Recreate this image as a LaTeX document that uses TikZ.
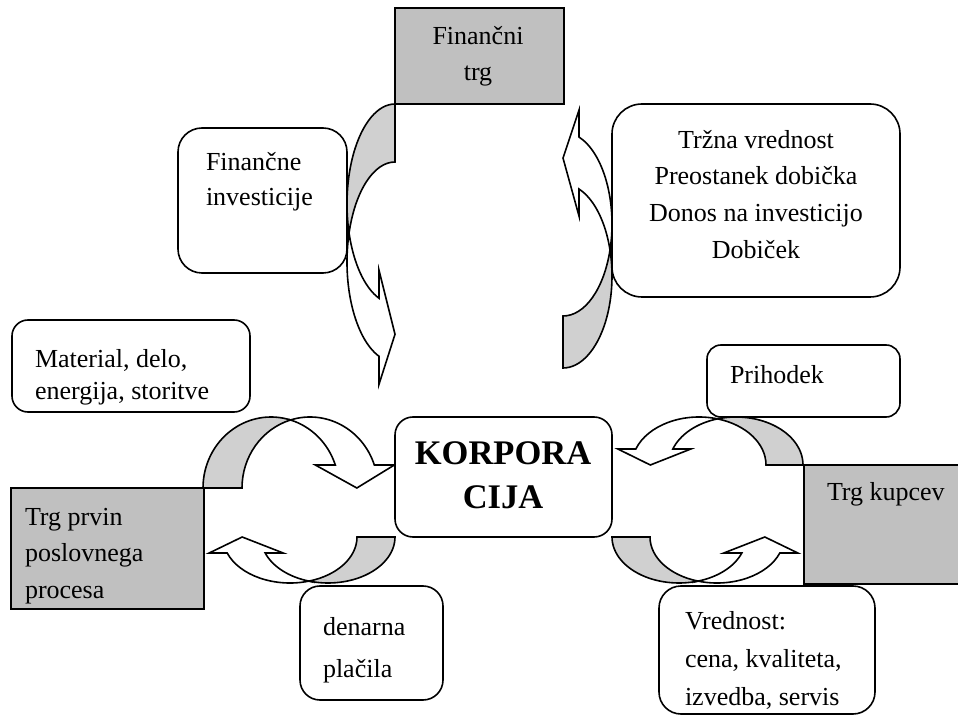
\documentclass[tikz,border=0pt]{standalone}
\usepackage{fontspec}
\setmainfont{Liberation Serif}
\usepackage{tikz}
\usetikzlibrary{positioning}
\definecolor{MarketGray}{RGB}{192,192,192}
\definecolor{ArrowGray}{RGB}{208,208,208}

\tikzset{
  roundbox/.style={draw, line width=1.6pt, fill=white, inner sep=0pt, outer sep=0pt},
  marketbox/.style={draw, line width=1.6pt, fill=MarketGray, inner sep=0pt, outer sep=0pt},
  boxtext/.style={inner sep=0pt, outer sep=0pt, font=\fontsize{26}{36.5}\selectfont},
  arrowback/.style={draw, line width=1.6pt, fill=ArrowGray},
  arrowfront/.style={draw, line width=1.6pt, fill=white},
}

% curved block arrow in its own frame: #1 shaft, #2 x radius, #3 y radius,
% #4 head base height, #5 barb, #6 tip shift
\newcommand\bentarrow[6]{%
  \pgfmathsetmacro\angcross{acos(#1/(2*#2))}
  \pgfmathsetmacro\angend{asin(#4/#3)}
  \pgfmathsetmacro\xin{#2+#2*cos(\angend)}
  \pgfmathsetmacro\xout{#1+\xin}
  \pgfmathsetmacro\xtip{(\xin+\xout)/2+#6}
  \pgfmathsetmacro\ycross{#3*sin(\angcross)}
  \filldraw[arrowback] (0,0)
    arc[start angle=180, end angle=\angcross, x radius=#2, y radius=#3]
    arc[start angle=180-\angcross, end angle=180, x radius=#2, y radius=#3] -- cycle;
  \filldraw[arrowfront] ({#2+#1/2},\ycross)
    arc[start angle=180-\angcross, end angle=\angend, x radius=#2, y radius=#3]
    -- ({\xout+#5},#4) -- (\xtip,0) -- ({\xin-#5},#4) -- (\xin,#4)
    arc[start angle=\angend, end angle=\angcross, x radius=#2, y radius=#3] -- cycle;
}

\begin{document}
\begin{tikzpicture}[x=1pt,y=1pt]
  \useasboundingbox (0,0) rectangle (958,726);

  % curved arrows
  \begin{scope}[cm={0,-1,-1,0,(395,622)}] \bentarrow{58}{100}{48}{16}{28}{7} \end{scope}
  \begin{scope}[cm={0,1,1,0,(563,358)}] \bentarrow{52}{92}{49}{16}{27}{5} \end{scope}
  \begin{scope}[cm={1,0,0,1,(203,238)}] \bentarrow{39}{68}{71}{23}{20}{2} \end{scope}
  \begin{scope}[cm={-1,0,0,1,(803,261)}] \bentarrow{37}{67}{48}{16}{18}{4} \end{scope}
  \begin{scope}[cm={-1,0,0,-1,(395,189)}] \bentarrow{38}{67}{46}{16}{18}{4} \end{scope}
  \begin{scope}[cm={1,0,0,-1,(612,189)}] \bentarrow{38}{67}{46}{16}{18}{4} \end{scope}

  % markets
  \node[marketbox, minimum width=169pt, minimum height=96pt] (fintrg) at (479.5,670) {};
  \node[marketbox, minimum width=193pt, minimum height=121pt] (trgprvin) at (107.5,177.5) {};
  \node[marketbox, minimum width=162pt, minimum height=119pt] (trgkupcev) at (885,201.5) {};

  % rounded boxes
  \node[roundbox, rounded corners=24pt, minimum width=169pt, minimum height=145pt] (fininv) at (262.5,525.5) {};
  \node[roundbox, rounded corners=30pt, minimum width=288pt, minimum height=193pt] (trzna) at (756,525.5) {};
  \node[roundbox, rounded corners=16pt, minimum width=238pt, minimum height=92pt] (material) at (131,360) {};
  \node[roundbox, rounded corners=14pt, minimum width=193pt, minimum height=72pt] (prihodek) at (803.5,345) {};
  \node[roundbox, rounded corners=18pt, minimum width=217pt, minimum height=120pt] (korp) at (503.5,249) {};
  \node[roundbox, rounded corners=20pt, minimum width=143pt, minimum height=114pt] (denarna) at (371.5,83) {};
  \node[roundbox, rounded corners=22pt, minimum width=216pt, minimum height=128pt] (vrednost) at (767,76) {};

  % texts
  \node[boxtext, anchor=north, align=center] (fintrg-txt) at (478,700) {Finančni\\trg};
  \node[boxtext, anchor=north west, align=left] (trgprvin-txt) at (25,218) {Trg prvin\\poslovnega\\procesa};
  \node[boxtext, anchor=north west, align=left] (trgkupcev-txt) at (827,244) {Trg kupcev};
  \node[boxtext, anchor=north west, align=left, font=\fontsize{26}{35}\selectfont] (fininv-txt) at (206,574) {Finančne\\investicije};
  \node[boxtext, anchor=north, align=center, font=\fontsize{26}{36.7}\selectfont] (trzna-txt) at (756,596) {Tržna vrednost\\Preostanek dobička\\Donos na investicijo\\Dobiček};
  \node[boxtext, anchor=north west, align=left, font=\fontsize{26}{32}\selectfont] (material-txt) at (35,377) {Material, delo,\\energija, storitve};
  \node[boxtext, anchor=north west, align=left] (prihodek-txt) at (730,361) {Prihodek};
  \node[boxtext, anchor=north, align=center, font=\fontsize{34.5}{44}\selectfont\bfseries] (korp-txt) at (503,284) {KORPORA\\CIJA};
  \node[boxtext, anchor=north west, align=left, font=\fontsize{26}{42}\selectfont] (denarna-txt) at (323,109) {denarna\\plačila};
  \node[boxtext, anchor=north west, align=left, font=\fontsize{26}{38}\selectfont] (vrednost-txt) at (685,115) {Vrednost:\\cena, kvaliteta,\\izvedba, servis};
\end{tikzpicture}
\end{document}
